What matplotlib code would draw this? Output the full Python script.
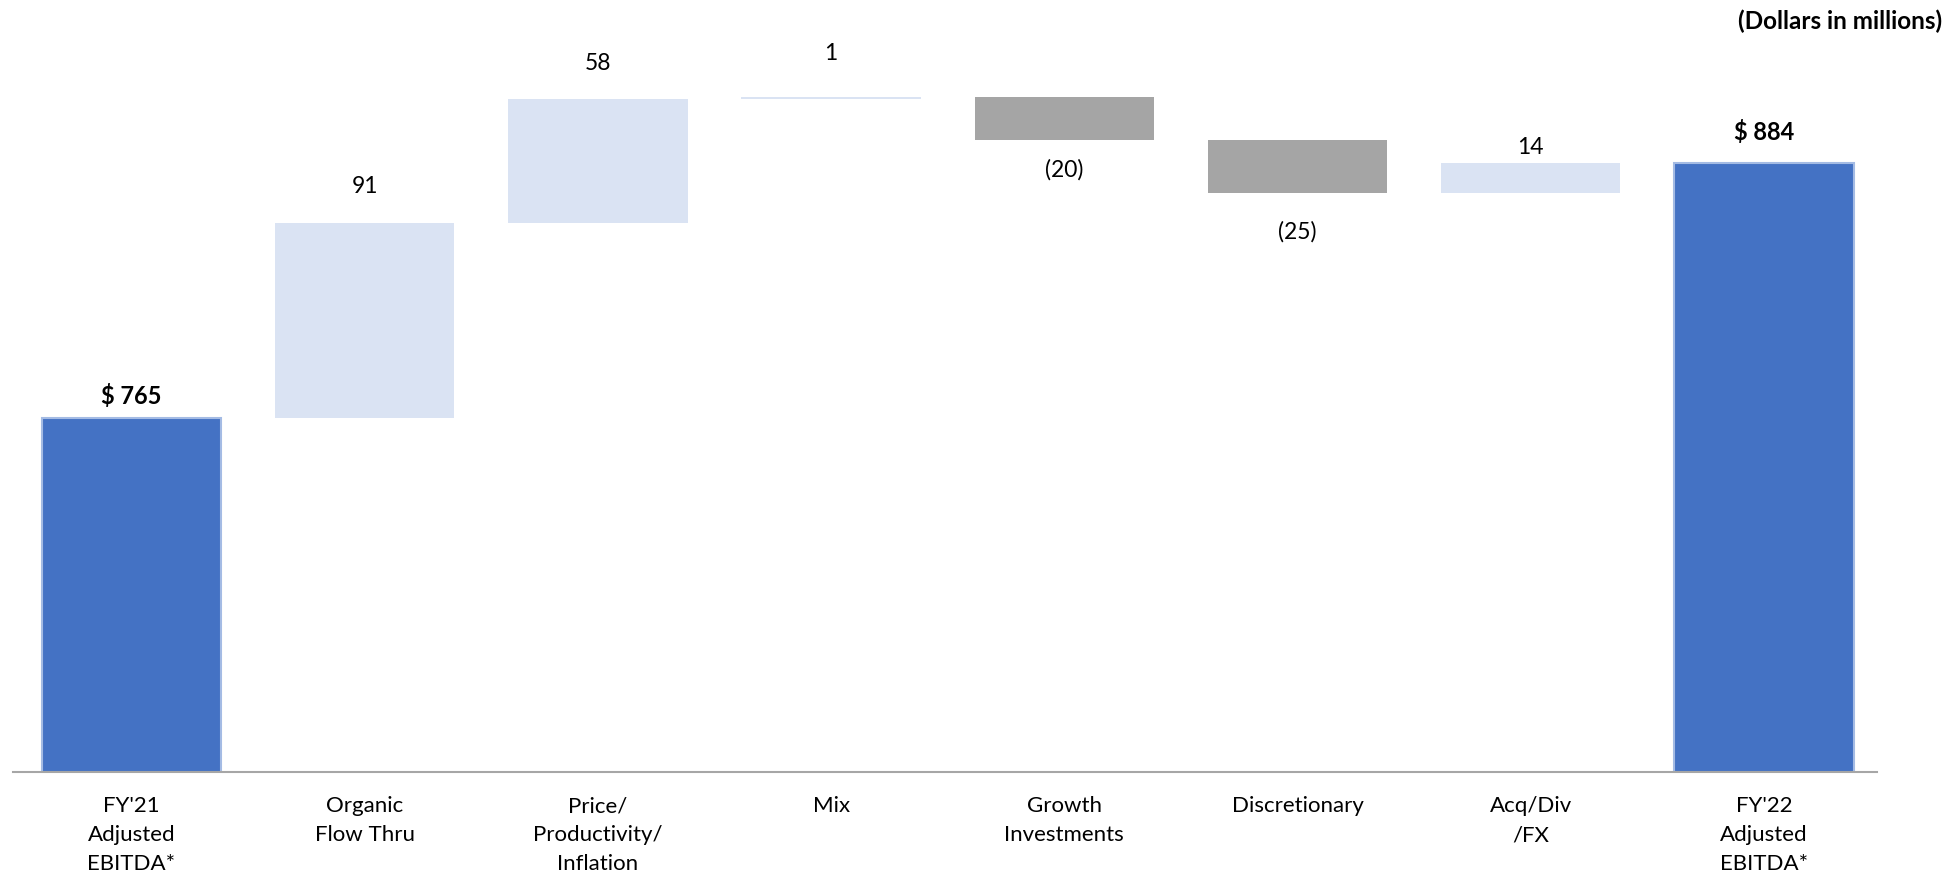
import numpy as np
import matplotlib.pyplot as plt

plt.rcParams['font.family'] = ['Lato', 'DejaVu Sans']

# EBITDA bridge, dollars in millions
categories = ["FY'21\nAdjusted\nEBITDA*", "Organic\nFlow Thru",
              "Price/\nProductivity/\nInflation", "Mix",
              "Growth\nInvestments", "Discretionary",
              "Acq/Div\n/FX", "FY'22\nAdjusted\nEBITDA*"]
start_total = 765
changes = [91, 58, 1, -20, -25, 14]
end_total = 884

# label gap from bar edge, in pixels
label_gap = [10, 26, 25, 33, 19, 28, 5, 19]

DARK_BLUE = '#4472C4'
LIGHT_BLUE = '#DAE3F3'
GREY = '#A5A5A5'

fig = plt.figure(figsize=(19.47, 8.75), dpi=100)
ax = fig.add_axes([13 / 1947, 103 / 875, (1877 - 13) / 1947, 772 / 875])

x = np.arange(len(categories))
width = 0.77

running = np.concatenate(([start_total], start_total + np.cumsum(changes)))
bottoms = np.minimum(running[:-1], running[1:])
heights = np.abs(changes)
colors = [LIGHT_BLUE if c > 0 else GREY for c in changes]

# totals
ax.bar([x[0], x[-1]], [start_total, end_total], width=width, color=DARK_BLUE,
       edgecolor='#A4BBE4', linewidth=1.5, zorder=2)
# step bars
ax.bar(x[1:-1], heights, bottom=bottoms, width=width, color=colors,
       linewidth=0, zorder=2)

# value labels
ax.annotate(f"$ {start_total}", (x[0], start_total), xytext=(0, label_gap[0]),
            textcoords='offset pixels', ha='center', va='bottom',
            fontsize=17, fontweight='bold')
ax.annotate(f"$ {end_total}", (x[-1], end_total), xytext=(0, label_gap[-1]),
            textcoords='offset pixels', ha='center', va='bottom',
            fontsize=17, fontweight='bold')
for i, c in enumerate(changes):
    xi = x[i + 1]
    if c >= 0:
        ax.annotate(f"{c}", (xi, bottoms[i] + heights[i]),
                    xytext=(0, label_gap[i + 1]), textcoords='offset pixels',
                    ha='center', va='bottom', fontsize=16.5)
    else:
        ax.annotate(f"({-c})", (xi, bottoms[i]),
                    xytext=(0, -label_gap[i + 1]), textcoords='offset pixels',
                    ha='center', va='top', fontsize=16.5)

ax.set_xlim(-0.508, 7.485)
ax.set_ylim(600, 960.3)
ax.set_xticks(x)
ax.set_xticklabels(categories, fontsize=16, linespacing=1.56)
ax.tick_params(axis='x', length=0, pad=17.5)
ax.set_yticks([])
for side in ['top', 'right', 'left']:
    ax.spines[side].set_visible(False)
ax.spines['bottom'].set_color('#A6A6A6')
ax.spines['bottom'].set_linewidth(1.5)

fig.text(1942 / 1947, 1 - 21 / 875, "(Dollars in millions)", ha='right',
         va='center', fontsize=17.5, fontweight='bold')

fig.savefig('out.png', dpi=100)
